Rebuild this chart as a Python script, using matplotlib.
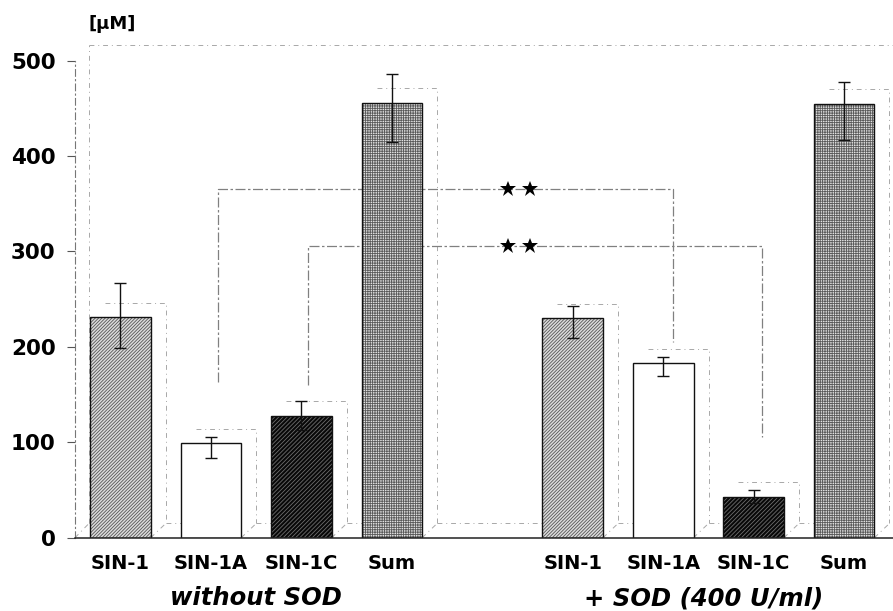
import matplotlib
matplotlib.use("Agg")
import matplotlib.pyplot as plt
import numpy as np

plt.rcParams['font.family'] = ['DejaVu Sans']
plt.rcParams['hatch.linewidth'] = 0.6

# ---- data ----
categories = ["SIN-1", "SIN-1A", "SIN-1C", "Sum", "SIN-1", "SIN-1A", "SIN-1C", "Sum"]
positions = [0, 1, 2, 3, 5, 6, 7, 8]
values = [231, 99, 128, 456, 230, 183, 43, 455]
err_lo = [32, 15, 15, 41, 21, 14, 7, 38]
err_hi = [36, 7, 15, 30, 13, 6, 7, 23]
group_labels = ["without SOD", "+ SOD (400 U/ml)"]
group_centers = [1.5, 6.45]
yticks = [0, 100, 200, 300, 400, 500]

# significance brackets: (x_left, y_left_bottom, y_level, x_right, y_right_bottom)
brackets = [(1.077, 163, 366, 6.105, 205),
            (2.07, 160, 306, 7.09, 106)]
star_x = [4.28, 4.53]
star_levels = [366, 306]

# styles (per bar type)
faces = {"SIN-1": "#dcdcdc", "SIN-1A": "white", "SIN-1C": "#080808", "Sum": "#e2e2e2"}
hatches = {"SIN-1": "//////////", "SIN-1A": "", "SIN-1C": "////////", "Sum": "+++++++"}
hatch_cols = {"SIN-1": "#555555", "SIN-1A": "white", "SIN-1C": "#6e6e6e", "Sum": "#5a5a5a"}

W = 0.67
DX = 0.166
DY = 15

fig = plt.figure(figsize=(8.93, 6.11), dpi=100)
ax = fig.add_axes([75/893, (611-537.7)/611, 818/893, (537.7-41.6)/611])
ax.set_xlim(-0.503, 8.54)
ax.set_ylim(0, 520)

depth_kw = dict(color="#a8a8a8", lw=0.7, ls=(0, (5, 4, 1, 4)), zorder=1)

# back wall
ax.plot([-0.348, 8.6], [516, 516], **depth_kw)
ax.plot([-0.348, -0.348], [DY, 516], **depth_kw)
ax.plot([-0.503, -0.348], [0, DY], **depth_kw)

# depth outlines per bar
for i, (p, v) in enumerate(zip(positions, values)):
    r = p + W/2
    ax.plot([p - W/2 + DX, r + DX, r + DX], [v + DY, v + DY, DY], **depth_kw)
    ax.plot([r, r + DX], [0, DY], **depth_kw)
    if i + 1 < len(positions):
        ax.plot([r + DX, positions[i+1] - W/2 + DX], [DY, DY], **depth_kw)
ax.plot([-0.348, positions[0] - W/2 + DX], [DY, DY], **depth_kw)

# brackets
for (xl, yl, lev, xr, yr) in brackets:
    ax.plot([xl, xl, xr, xr], [yl, lev, lev, yr], color="#808080", lw=0.9,
            ls=(0, (8, 2, 2, 2)), zorder=1)
for lev in star_levels:
    ax.plot(star_x, [lev]*len(star_x), ls="none", marker="*", ms=12,
            color="black", mew=0, zorder=4)

# bars
for p, v, c in zip(positions, values, categories):
    ax.bar(p, v, width=W, color=faces[c], edgecolor="none", lw=0, zorder=2)
    if hatches[c]:
        ax.bar(p, v, width=W, facecolor="none", edgecolor=hatch_cols[c],
               hatch=hatches[c], lw=0, zorder=2.1)
    ax.bar(p, v, width=W, facecolor="none", edgecolor="#111111", lw=1.0, zorder=2.2)

ax.errorbar(positions, values, yerr=[err_lo, err_hi], fmt="none", ecolor="#111111",
            elinewidth=1.0, capsize=4, capthick=1.0, zorder=3)

# axes styling
for s in ["top", "right"]:
    ax.spines[s].set_visible(False)
ax.spines["left"].set_color("#777777")
ax.spines["left"].set_linewidth(0.8)
ax.spines["left"].set_linestyle((0, (6, 3, 1, 3)))
ax.spines["left"].set_bounds(0, 500)
ax.spines["bottom"].set_color("#222222")
ax.spines["bottom"].set_linewidth(1.1)

ax.set_yticks(yticks)
ax.set_yticklabels([str(t) for t in yticks], fontsize=15.5, fontweight="bold")
ax.tick_params(axis="y", length=6, width=0.8, color="#555555", pad=8)
ax.set_xticks(positions)
ax.set_xticklabels(categories, fontsize=14, fontweight="bold")
ax.tick_params(axis="x", length=0, pad=12)

tr = ax.get_xaxis_transform()
for gx, gl in zip(group_centers, group_labels):
    ax.text(gx, -0.122, gl, transform=tr, ha="center", va="center",
            fontsize=17.5, fontweight="bold", fontstyle="italic")

ax.text(0.016, 1.036, "[μM]", transform=ax.transAxes, ha="left", va="center",
        fontsize=13, fontweight="bold")

fig.savefig("out.png", dpi=100)
